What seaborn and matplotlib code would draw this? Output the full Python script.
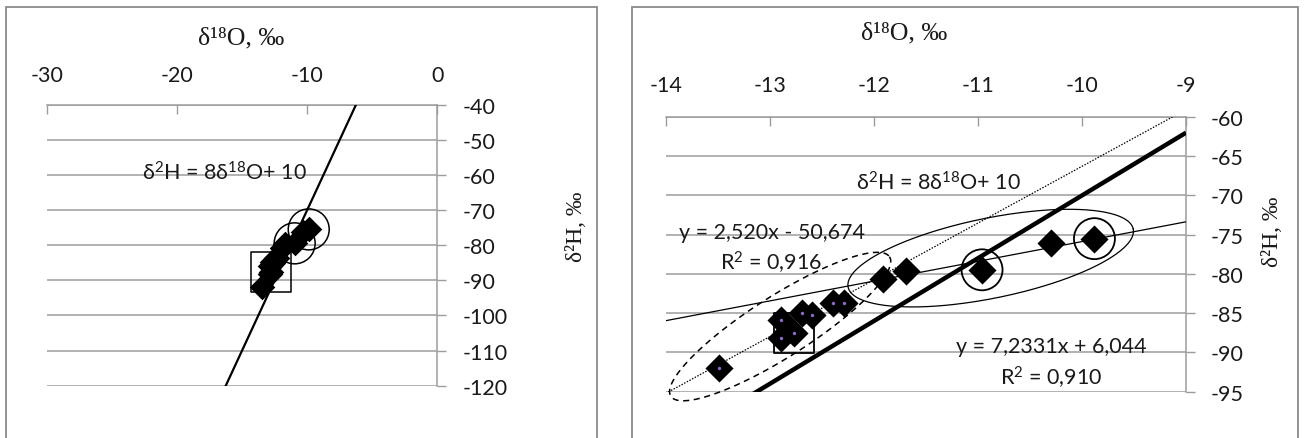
import numpy as np
import pandas as pd
import matplotlib
matplotlib.use("Agg")
import matplotlib.pyplot as plt
from matplotlib.patches import Rectangle
import seaborn as sns

# ---- data: stable isotopes of water samples (per mil) ----
d18o = [-13.49, -12.89, -12.77, -12.89, -12.69, -12.59, -12.39, -12.29,
        -11.91, -11.69, -10.96, -10.30, -9.88]
d2h = [-92.0, -85.85, -87.55, -88.15, -84.91, -85.2, -83.64, -83.64,
       -80.66, -79.6, -79.47, -76.1, -75.5]
group = ["A"] * 8 + ["B"] * 5

circled = [10, 12]   # samples marked with a circle
boxed = [2]          # sample marked with a square

# global meteoric water line: d2H = 8 d18O + 10
gmwl = (8.0, 10.0)
# local regressions (slope, intercept, R2)
reg_a = (7.2331, 6.044, 0.910)
reg_b = (2.520, -50.674, 0.916)

df = pd.DataFrame({"d18o": d18o, "d2h": d2h, "group": group})

sns.set_style("white")
plt.rcParams["font.family"] = ["Lato", "DejaVu Sans"]
plt.rcParams["mathtext.fontset"] = "custom"
plt.rcParams["mathtext.rm"] = "Lato"
plt.rcParams["mathtext.it"] = "Lato"
plt.rcParams["axes.unicode_minus"] = False

W, H = 1306, 439
fig = plt.figure(figsize=(W / 100, H / 100), dpi=100)
fig.patch.set_facecolor("white")

GRID = "#9c9c9c"
TXT = "#1a1a1a"
SERIF = ["Liberation Serif", "DejaVu Serif"]
FS = 15.5


def px_axes(x0, x1, ytop, ybot):
    return fig.add_axes([x0 / W, 1 - ybot / H, (x1 - x0) / W, (ybot - ytop) / H])


def style_axes(ax, xlim, ylim, xticks, yticks, xpad, ypad):
    ax.set_xlim(*xlim)
    ax.set_ylim(*ylim)
    ax.set_xticks(xticks)
    ax.set_yticks(yticks)
    ax.xaxis.tick_top()
    ax.yaxis.tick_right()
    for s in ("left", "bottom"):
        ax.spines[s].set_visible(False)
    for s in ("top", "right"):
        ax.spines[s].set_color(GRID)
        ax.spines[s].set_linewidth(1.1)
    ax.tick_params(axis="x", direction="in", length=6.5, width=1.0, color=GRID,
                   labelsize=FS, labelcolor=TXT, pad=xpad)
    ax.tick_params(axis="y", direction="out", length=6.5, width=1.0, color=GRID,
                   labelsize=FS, labelcolor=TXT, pad=ypad)
    ax.yaxis.grid(True, color=GRID, linewidth=1.1)
    ax.xaxis.grid(False)
    ax.set_xlabel("")
    ax.set_ylabel("")
    ax.set_facecolor("none")


def ellipse(ax, center, a, b, **kw):
    t = np.linspace(0, 2 * np.pi, 300)
    x = center[0] + a[0] * np.cos(t) + b[0] * np.sin(t)
    y = center[1] + a[1] * np.cos(t) + b[1] * np.sin(t)
    ax.plot(x, y, clip_on=False, **kw)


# panel frames
for (x0, x1) in [(5.7, 596.7), (631.7, 1298)]:
    fig.patches.append(Rectangle((x0 / W, -0.05), (x1 - x0) / W, 1.05 - 8.3 / H,
                                 transform=fig.transFigure, fill=False,
                                 edgecolor="#8a8a8a", linewidth=1.3))

# ---------------- left panel: overview ----------------
axL = px_axes(46.7, 437.4, 105.7, 386.7)
style_axes(axL, (-30, 0), (-120, -40), np.arange(-30, 1, 10),
           np.arange(-120, -39, 10), 14.5, 11.5)
xl = np.array([-30.0, 0.0])
axL.plot(xl, gmwl[0] * xl + gmwl[1], color="black", lw=1.6, zorder=3)
sns.scatterplot(data=df, x="d18o", y="d2h", marker="D", s=170, color="black",
                edgecolor="black", linewidth=0, legend=False, ax=axL, zorder=4)
axL.scatter(df.d18o.iloc[circled], df.d2h.iloc[circled], s=29.5 ** 2,
            marker="o", facecolors="none", edgecolors="black", linewidths=1.1, zorder=5)
axL.scatter(df.d18o.iloc[boxed], df.d2h.iloc[boxed], s=29 ** 2,
            marker="s", facecolors="none", edgecolors="black", linewidths=1.1, zorder=5)
axL.set_xlabel("")
axL.set_ylabel("")
axL.text(224.8 / W, 1 - 172.5 / H, r"δ$^{2}$H = 8δ$^{18}$O+ 10", transform=fig.transFigure,
         ha="center", va="center", fontsize=FS, color=TXT, zorder=6)

# ---------------- right panel: detail ----------------
axR = px_axes(665.7, 1186, 118, 392.7)
style_axes(axR, (-14, -9), (-95, -60), np.arange(-14, -8.9, 1),
           np.arange(-95, -59, 5), 16, 11.5)
xr = np.array([-14.0, -9.0])
axR.plot(xr, gmwl[0] * xr + gmwl[1], color="black", lw=3.2, zorder=3,
         solid_capstyle="butt")
axR.plot(xr, reg_a[0] * xr + reg_a[1], color="black", lw=0.9,
         linestyle=(0, (1.2, 1.2)), zorder=3)
axR.plot(xr, reg_b[0] * xr + reg_b[1], color="black", lw=0.9, zorder=3)

# groupings
ellipse(axR, (-12.90, -86.7), (1.05, 8.9), (0.165, -3.2),
        color="black", lw=1.1, linestyle=(0, (4, 3)), zorder=3)
ellipse(axR, (-10.877, -77.98), (1.370, 3.70), (0.0767, -5.0),
        color="black", lw=0.9, zorder=3)

sns.scatterplot(data=df, x="d18o", y="d2h", marker="D", s=205, color="black",
                edgecolor="black", linewidth=0, legend=False, ax=axR, zorder=4)
sub = df[df.group == "A"]
axR.scatter(sub.d18o, sub.d2h, s=6, color="#8a6cc4", linewidths=0, zorder=6)
axR.scatter(df.d18o.iloc[circled], df.d2h.iloc[circled], s=29.5 ** 2,
            marker="o", facecolors="none", edgecolors="black", linewidths=1.3, zorder=5)
axR.scatter(df.d18o.iloc[boxed], df.d2h.iloc[boxed], s=29 ** 2,
            marker="s", facecolors="none", edgecolors="black", linewidths=1.3, zorder=3.5)
axR.set_xlabel("")
axR.set_ylabel("")


def fmt(v, nd):
    return f"{abs(v):.{nd}f}".replace(".", ",")


axR.text(939 / W, 1 - 183 / H, r"δ$^{2}$H = 8δ$^{18}$O+ 10", transform=fig.transFigure,
         ha="center", va="center", fontsize=FS, color=TXT, zorder=6)
axR.text(771.7 / W, 1 - 233.3 / H,
         f"y = {fmt(reg_b[0], 3)}x - {fmt(reg_b[1], 3)}", transform=fig.transFigure,
         ha="center", va="center", fontsize=FS, color=TXT, zorder=6)
axR.text(771.5 / W, 1 - 263.3 / H, r"R$^{2}$ = " + fmt(reg_b[2], 3),
         transform=fig.transFigure, ha="center", va="center", fontsize=FS, color=TXT, zorder=6)
axR.text(1051.7 / W, 1 - 346.7 / H,
         f"y = {fmt(reg_a[0], 4)}x + {fmt(reg_a[1], 3)}", transform=fig.transFigure,
         ha="center", va="center", fontsize=FS, color=TXT, zorder=6)
axR.text(1051.7 / W, 1 - 378.3 / H, r"R$^{2}$ = " + fmt(reg_a[2], 3),
         transform=fig.transFigure, ha="center", va="center", fontsize=FS, color=TXT, zorder=6)

# axis titles
for (x, y) in [(241, 38), (903.8, 33)]:
    fig.text(x / W, 1 - y / H, "δ¹⁸O, ‰", family=SERIF, fontsize=18.5,
             ha="center", va="center", color=TXT)
for (x, y) in [(576.7, 226.7), (1273, 232)]:
    fig.text(x / W, 1 - y / H, "δ²H, ‰", family=SERIF, fontsize=17,
             ha="center", va="center", rotation=90, color=TXT)

fig.savefig("out.png", dpi=100, facecolor="white")
